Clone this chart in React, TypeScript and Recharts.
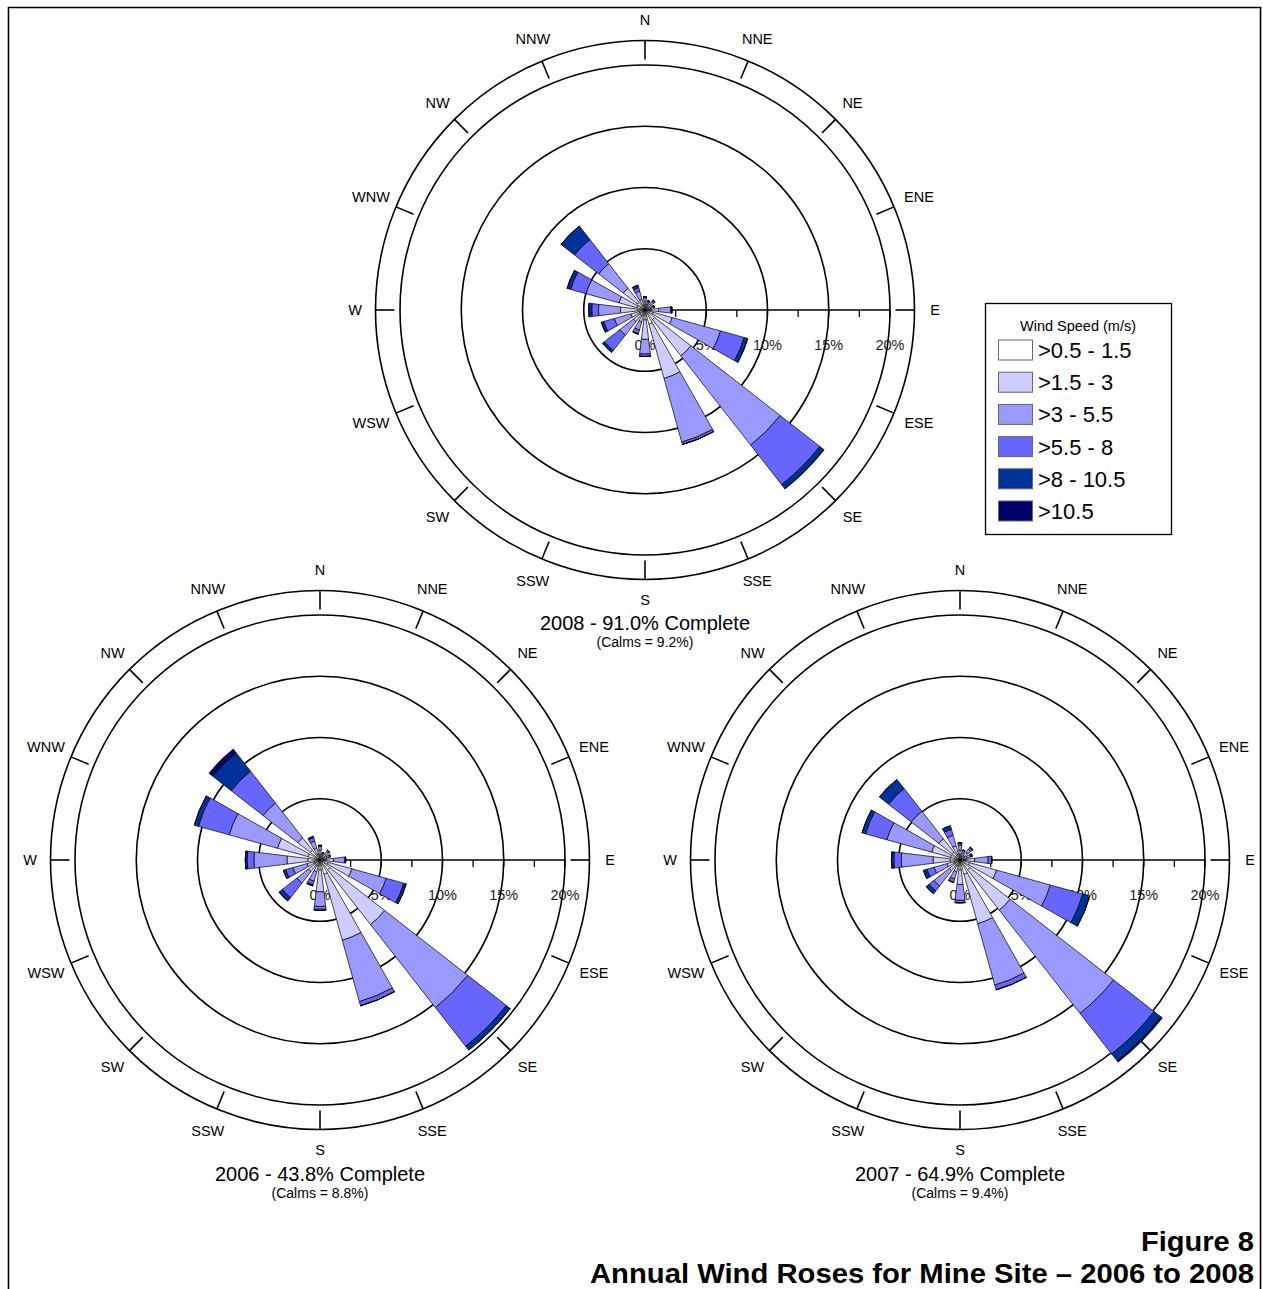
import React from 'react';
import {
  RadialBarChart,
  RadialBar,
  PolarAngleAxis,
  PolarRadiusAxis,
  PolarGrid,
} from 'recharts';

// Compass sectors, clockwise from north
const DIRECTIONS = ['N', 'NNE', 'NE', 'ENE', 'E', 'ESE', 'SE', 'SSE', 'S', 'SSW', 'SW', 'WSW', 'W', 'WNW', 'NW', 'NNW'];

// Wind speed classes (m/s) and their fills
const SPEED_BINS = ['>0.5 - 1.5', '>1.5 - 3', '>3 - 5.5', '>5.5 - 8', '>8 - 10.5', '>10.5'];
const SPEED_COLORS = ['#FFFFFF', '#CCCCFF', '#9999FF', '#6666FF', '#003399', '#000066'];

// Frequency rings and the scale along the east spoke (%)
const RING_TICKS = [5, 10, 15, 20];
const SCALE_TICKS = [0, 2.5, 5, 7.5, 10, 12.5, 15, 17.5, 20];
const LABELLED_TICKS = [0, 5, 10, 15, 20];
const MAX_PCT = 22;

// 2008 frequency of occurrence (%) per direction, one array per speed class
const F2008_S1 = [0.4, 0.3, 0.3, 0.3, 0.5, 0.7, 1.0, 1.2, 0.8, 0.5, 0.5, 0.5, 0.6, 0.7, 0.8, 0.4];
const F2008_S2 = [0.3, 0.2, 0.3, 0.2, 0.6, 1.6, 3.75, 4.6, 1.6, 0.5, 0.7, 0.7, 1.4, 1.5, 1.45, 0.5];
const F2008_S3 = [0.3, 0.2, 0.3, 0.2, 1.0, 4.1, 9.25, 5.4, 1.2, 0.7, 1.4, 1.4, 1.8, 2.8, 2.55, 0.7];
const F2008_S4 = [0.1, 0.1, 0.1, 0.1, 0.1, 2.0, 4.1, 0.2, 0.2, 0.3, 1.6, 0.9, 0.55, 1.3, 2.5, 0.3];
const F2008_S5 = [0, 0, 0.05, 0, 0, 0.3, 0.4, 0, 0, 0.05, 0.2, 0.2, 0.25, 0.3, 1.4, 0.2];
const F2008_S6 = [0, 0, 0, 0, 0, 0, 0.05, 0, 0, 0, 0, 0, 0, 0, 0, 0];

// 2006
const F2006_S1 = [0.4, 0.3, 0.3, 0.3, 0.5, 0.7, 1.0, 1.2, 0.8, 0.5, 0.5, 0.5, 1.0, 1.0, 1.0, 0.5];
const F2006_S2 = [0.4, 0.2, 0.3, 0.3, 0.6, 2.0, 5.7, 5.6, 1.8, 0.5, 0.7, 0.6, 1.7, 2.6, 1.3, 0.5];
const F2006_S3 = [0.3, 0.1, 0.3, 0.2, 0.9, 2.9, 8.6, 5.2, 1.2, 0.8, 1.2, 1.2, 2.7, 4.1, 3.6, 0.6];
const F2006_S4 = [0.1, 0.05, 0.1, 0.1, 0.1, 1.5, 4.0, 0.35, 0.3, 0.3, 1.5, 0.6, 0.55, 2.6, 3.3, 0.3];
const F2006_S5 = [0, 0, 0, 0, 0, 0.2, 0.4, 0, 0, 0.1, 0.35, 0.2, 0.15, 0.35, 1.9, 0.1];
const F2006_S6 = [0, 0, 0, 0, 0, 0, 0, 0, 0, 0, 0, 0, 0, 0, 0.4, 0];

// 2007
const F2007_S1 = [0.4, 0.3, 0.4, 0.3, 0.5, 0.8, 1.0, 1.2, 0.8, 0.5, 0.5, 0.5, 0.8, 0.8, 0.8, 0.5];
const F2007_S2 = [0.4, 0.3, 0.4, 0.3, 0.7, 2.3, 4.2, 4.2, 1.2, 0.5, 0.6, 0.6, 1.4, 1.6, 1.4, 0.7];
const F2007_S3 = [0.4, 0.2, 0.3, 0.3, 1.1, 4.55, 10.7, 5.2, 1.3, 0.6, 1.6, 1.1, 2.6, 3.8, 2.85, 0.9];
const F2007_S4 = [0.2, 0.05, 0.2, 0.1, 0.3, 2.75, 4.2, 0.4, 0.2, 0.3, 0.5, 0.6, 0.6, 1.8, 2.35, 0.5];
const F2007_S5 = [0, 0, 0.05, 0.05, 0, 0.6, 0.7, 0, 0, 0, 0.3, 0.3, 0.2, 0.3, 0.95, 0.3];
const F2007_S6 = [0, 0, 0, 0, 0, 0, 0.15, 0, 0, 0, 0, 0, 0, 0, 0, 0];

const ROSE_2008 = [F2008_S1, F2008_S2, F2008_S3, F2008_S4, F2008_S5, F2008_S6];
const ROSE_2006 = [F2006_S1, F2006_S2, F2006_S3, F2006_S4, F2006_S5, F2006_S6];
const ROSE_2007 = [F2007_S1, F2007_S2, F2007_S3, F2007_S4, F2007_S5, F2007_S6];

const CAPTIONS = [
  { title: '2008 - 91.0% Complete', calms: '(Calms = 9.2%)' },
  { title: '2006 - 43.8% Complete', calms: '(Calms = 8.8%)' },
  { title: '2007 - 64.9% Complete', calms: '(Calms = 9.4%)' },
];

const FONT = "'Liberation Sans', Arial, Helvetica, sans-serif";
const SIZE = 640;
const C = SIZE / 2;
const OUTER_R = 269.5;
const TICK_LEN = 19;
const LABEL_GAP = 287;
const RAD = Math.PI / 180;
// half of one sector; the angle axis reports the start of each sector band
const HALF_SECTOR = 360 / DIRECTIONS.length / 2;

const polar = (r: number, angle: number) => ({
  x: C + r * Math.cos(-angle * RAD),
  y: C + r * Math.sin(-angle * RAD),
});

const buildRows = (bins: number[][]) =>
  DIRECTIONS.map((dir, i) => {
    const row: Record<string, string | number> = { dir };
    bins.forEach((b, k) => {
      row[`s${k}`] = b[i];
    });
    return row;
  });

// compass tick (inward from the outer ring) plus the direction name outside it
const DirectionTick = (props: any) => {
  const { payload } = props;
  const a = payload.coordinate + HALF_SECTOR;
  const p1 = polar(OUTER_R, a);
  const p2 = polar(OUTER_R - TICK_LEN, a);
  // push wider names a little further out on the sides so they clear the ring
  const halfWidth = String(payload.value).length * 5.5;
  const r = LABEL_GAP + 3 * Math.abs(Math.sin(a * RAD)) + 0.55 * halfWidth * Math.abs(Math.cos(a * RAD));
  const lp = polar(r, a);
  return (
    <g>
      <line x1={p1.x} y1={p1.y} x2={p2.x} y2={p2.y} stroke="#000" strokeWidth={1.6} />
      <text x={lp.x} y={lp.y} textAnchor="middle" dominantBaseline="central" fontSize={14.5} fontFamily={FONT} fill="#000">
        {payload.value}
      </text>
    </g>
  );
};

const ScaleTick = (props: any) => {
  const { x, y, payload } = props;
  const v = payload.value;
  return (
    <g>
      {v > 0 && <line x1={x} y1={y} x2={x} y2={y + 7} stroke="#000" strokeWidth={1.3} />}
      {LABELLED_TICKS.includes(v) && (
        <text x={x} y={y + 40} textAnchor="middle" fontSize={14.5} fontFamily={FONT} fill="#222">
          {`${v}%`}
        </text>
      )}
    </g>
  );
};

function WindRose({ bins, left, top }: { bins: number[][]; left: number; top: number }) {
  const rows = buildRows(bins);
  return (
    <div style={{ position: 'absolute', left, top, width: SIZE, height: SIZE }}>
      <RadialBarChart
        width={SIZE}
        height={SIZE}
        data={rows}
        cx={C}
        cy={C}
        innerRadius={0}
        outerRadius={OUTER_R}
        startAngle={90 - HALF_SECTOR}
        endAngle={-270 - HALF_SECTOR}
        layout="centric"
        barCategoryGap="19%"
        margin={{ top: 0, right: 0, bottom: 0, left: 0 }}
      >
        <PolarGrid radiusAxisId="rings" gridType="circle" radialLines={false} stroke="#000" strokeWidth={1.6} />
        <PolarAngleAxis
          dataKey="dir"
          type="category"
          axisLineType="circle"
          axisLine={{ stroke: '#000', strokeWidth: 1.6 }}
          tickLine={false}
          tick={DirectionTick}
          zIndex={-50}
        />
        <PolarRadiusAxis
          radiusAxisId="rings"
          type="number"
          domain={[0, MAX_PCT]}
          ticks={RING_TICKS}
          tick={false}
          axisLine={false}
          allowDataOverflow
        />
        <PolarRadiusAxis
          type="number"
          angle={0}
          domain={[0, MAX_PCT]}
          ticks={SCALE_TICKS}
          allowDataOverflow
          axisLine={{ stroke: '#000', strokeWidth: 1.6 }}
          tick={ScaleTick}
          zIndex={-50}
        />
        {SPEED_BINS.map((name, k) => (
          <RadialBar
            key={name}
            dataKey={`s${k}`}
            name={name}
            stackId="rose"
            fill={SPEED_COLORS[k]}
            stroke="#000"
            strokeWidth={0.7}
            isAnimationActive={false}
          />
        ))}
      </RadialBarChart>
    </div>
  );
}

function Caption({ x, y, title, calms }: { x: number; y: number; title: string; calms: string }) {
  return (
    <g fontFamily={FONT} fill="#000" textAnchor="middle">
      <text x={x} y={y} fontSize={20}>{title}</text>
      <text x={x} y={y + 17} fontSize={14}>{calms}</text>
    </g>
  );
}

export default function App() {
  const legendTop = 303.5;
  return (
    <div style={{ position: 'absolute', left: 0, top: 0, width: 1263, height: 1289, background: '#fff', overflow: 'hidden' }}>
      <svg width={1263} height={1289} style={{ position: 'absolute', left: 0, top: 0 }}>
        <path d="M8.5 1289 V7.5 H1260.5 V1289" fill="none" stroke="#000" strokeWidth={1.6} />
        <Caption x={645} y={630} title={CAPTIONS[0].title} calms={CAPTIONS[0].calms} />
        <Caption x={320} y={1181} title={CAPTIONS[1].title} calms={CAPTIONS[1].calms} />
        <Caption x={960} y={1181} title={CAPTIONS[2].title} calms={CAPTIONS[2].calms} />

        <rect x={985.5} y={legendTop} width={186} height={231} fill="#fff" stroke="#000" strokeWidth={1.3} />
        <text x={1078} y={331} textAnchor="middle" fontSize={14.5} fontFamily={FONT}>Wind Speed (m/s)</text>
        {SPEED_BINS.map((name, k) => {
          const cy = 350 + k * 32.2;
          return (
            <g key={name}>
              <rect x={998.5} y={cy - 10} width={34} height={20} fill={SPEED_COLORS[k]} stroke="#666" strokeWidth={1} />
              <text x={1038} y={cy + 8} fontSize={22} fontFamily={FONT}>{name}</text>
            </g>
          );
        })}

        <text
          x={1254}
          y={1251}
          textAnchor="end"
          fontSize={27}
          fontWeight="bold"
          fontFamily="'Liberation Sans Narrow', 'Arial Narrow', 'Liberation Sans', sans-serif"
          textLength={113}
          lengthAdjust="spacingAndGlyphs"
        >
          Figure 8
        </text>
        <text
          x={1254}
          y={1283}
          textAnchor="end"
          fontSize={27}
          fontWeight="bold"
          fontFamily="'Liberation Sans Narrow', 'Arial Narrow', 'Liberation Sans', sans-serif"
          textLength={664}
          lengthAdjust="spacingAndGlyphs"
        >
          Annual Wind Roses for Mine Site – 2006 to 2008
        </text>
      </svg>
      <WindRose bins={ROSE_2008} left={645 - C} top={310 - C} />
      <WindRose bins={ROSE_2006} left={320 - C} top={860 - C} />
      <WindRose bins={ROSE_2007} left={960 - C} top={860 - C} />
    </div>
  );
}
